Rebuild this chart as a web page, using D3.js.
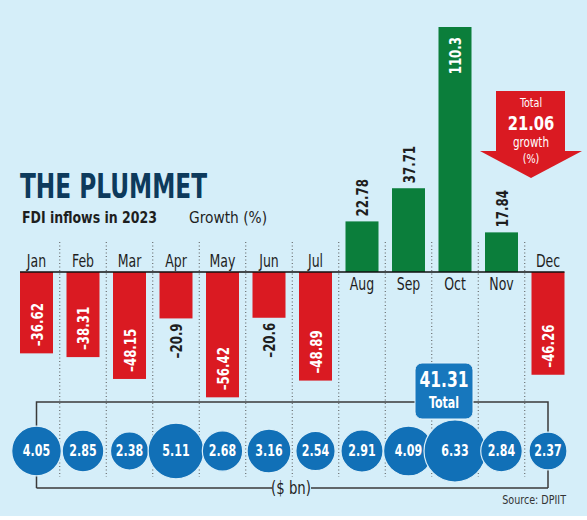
<!DOCTYPE html>
<html>
<head>
<meta charset="utf-8">
<script src="https://cdn.jsdelivr.net/npm/d3@7"></script>
<style>
    html, body { margin: 0; padding: 0; background: #fff; }
    svg { display: block; font-family: "DejaVu Sans Condensed", "DejaVu Sans", sans-serif; font-stretch: condensed; }
</style>
</head>
<body>
<div id="chart"></div>
<script>

/* Data */
const months = ['Jan', 'Feb', 'Mar', 'Apr', 'May', 'Jun', 'Jul', 'Aug', 'Sep', 'Oct', 'Nov', 'Dec'];
const growth = [-36.62, -38.31, -48.15, -20.9, -56.42, -20.6, -48.89, 22.78, 37.71, 110.3, 17.84, -46.26];
const inflows = [4.05, 2.85, 2.38, 5.11, 2.68, 3.16, 2.54, 2.91, 4.09, 6.33, 2.84, 2.37];
const totalGrowth = 21.06;
const totalInflow = 41.31;

const colors = {
    bg: '#d5eef9',
    red: '#da1a22',
    green: '#0b7e3b',
    blue: '#1170b7',
    navy: '#0d3a5c',
    ink: '#1e1e1e'
};

const width = 587, height = 520;
const squeeze = 0.82; // fake a condensed face

const x = d3.scalePoint().domain(months).range([13.25, 571.25]).padding(0.5);
const y = d3.scaleLinear().domain([0, 110.3]).range([272, 27]);
const r = d3.scaleSqrt().domain([0, 6.33]).range([0, 31]);
const barWidth = 33;
const step = x.step();

const svg = d3.select('#chart').append('svg')
    .attr('width', width)
    .attr('height', height);

svg.append('rect')
    .attr('width', width)
    .attr('height', 516)
    .attr('fill', colors.bg);

/* Dotted column separators */
svg.append('g').selectAll('line')
    .data(months.slice(0, -1))
    .join('line')
    .attr('x1', d => x(d) + step / 2)
    .attr('x2', d => x(d) + step / 2)
    .attr('y1', 242)
    .attr('y2', 477)
    .attr('stroke', '#555')
    .attr('stroke-width', 1)
    .attr('stroke-dasharray', '1,2.5');

/* Title */
svg.append('text')
    .attr('x', 20).attr('y', 198)
    .attr('font-size', 34).attr('font-weight', 900)
    .attr('fill', colors.navy)
    .attr('textLength', 187).attr('lengthAdjust', 'spacingAndGlyphs')
    .text('THE PLUMMET');

svg.append('text')
    .attr('x', 22).attr('y', 223)
    .attr('font-size', 15).attr('font-weight', 700)
    .attr('fill', colors.ink)
    .attr('textLength', 135).attr('lengthAdjust', 'spacingAndGlyphs')
    .text('FDI inflows in 2023');

svg.append('text')
    .attr('x', 189).attr('y', 223)
    .attr('font-size', 16)
    .attr('fill', colors.ink)
    .attr('textLength', 78).attr('lengthAdjust', 'spacingAndGlyphs')
    .text('Growth (%)');

/* Bars */
const bars = svg.append('g').selectAll('g')
    .data(months.map((m, i) => ({month: m, value: growth[i]})))
    .join('g');

bars.append('rect')
    .attr('x', d => x(d.month) - barWidth / 2)
    .attr('width', barWidth)
    .attr('y', d => Math.min(y(d.value), y(0)))
    .attr('height', d => Math.abs(y(d.value) - y(0)))
    .attr('fill', d => d.value < 0 ? colors.red : colors.green);

/* Zero line */
svg.append('line')
    .attr('x1', x(months[0]) - barWidth / 2)
    .attr('x2', x(months[months.length - 1]) + barWidth / 2)
    .attr('y1', y(0)).attr('y2', y(0))
    .attr('stroke', '#111')
    .attr('stroke-width', 1.3);

/* Month names sit on the side away from the bar */
bars.append('text')
    .attr('transform', d => `translate(${x(d.month)},${d.value < 0 ? y(0) - 5 : y(0) + 18}) scale(${squeeze},1)`)
    .attr('text-anchor', 'middle')
    .attr('font-size', 17)
    .attr('fill', colors.ink)
    .text(d => d.month);

/* Value labels, inside the bar when there is room (or no room above) */
const fmt = v => (v < 0 ? '\u2013' : '') + Math.abs(v);

bars.append('text')
    .attr('font-size', 16)
    .attr('font-weight', 700)
    .attr('dominant-baseline', 'central')
    .text(d => fmt(d.value))
    .each(function(d) {
        const len = this.getComputedTextLength() * squeeze;
        const barLen = Math.abs(y(d.value) - y(0));
        let inside, anchor, pos;
        if (d.value < 0) {
            inside = barLen > len + 14;
            anchor = inside ? 'start' : 'end';
            pos = inside ? y(d.value) - 7 : y(d.value) + 5;
        } else {
            inside = y(d.value) - len - 5 < 0;
            anchor = inside ? 'end' : 'start';
            pos = inside ? y(d.value) + 10 : y(d.value) - 5;
        }
        d3.select(this)
            .attr('text-anchor', anchor)
            .attr('fill', inside ? '#fff' : colors.ink)
            .attr('transform', `translate(${x(d.month)},${pos}) rotate(-90) scale(${squeeze},1)`);
    });

/* Total growth arrow */
const arrow = svg.append('g');
arrow.append('path')
    .attr('d', 'M496,91 L565,91 L565,151 L582,151 L531,178 L480,151 L496,151 Z')
    .attr('fill', colors.red);

[['Total', 103, 13, 400], [totalGrowth.toFixed(2), 123, 20, 700], ['growth', 142, 14, 400], ['(%)', 159, 13, 400]]
    .forEach(([t, ty, fs, fw]) => {
        arrow.append('text')
            .attr('transform', `translate(531,${ty}) scale(${squeeze},1)`)
            .attr('text-anchor', 'middle')
            .attr('dominant-baseline', 'central')
            .attr('font-size', fs).attr('font-weight', fw)
            .attr('fill', '#fff')
            .text(t);
    });

/* Bracket around the bubbles */
const bTop = 402, bBottom = 488, cy = 451;
const x0 = x(months[0]), x1 = x(months[months.length - 1]);
const bracket = svg.append('g')
    .attr('stroke', '#3a3a3a')
    .attr('stroke-width', 1.5)
    .attr('fill', 'none');

bracket.append('path')
    .attr('d', `M${x0},${bBottom} L${x0},${bTop} L${x1},${bTop} L${x1},${bBottom}`);
bracket.append('path')
    .attr('d', `M${x0},${bBottom} L272,${bBottom} M311,${bBottom} L${x1},${bBottom}`);

svg.append('text')
    .attr('transform', `translate(291,${bBottom}) scale(${squeeze},1)`)
    .attr('text-anchor', 'middle')
    .attr('dominant-baseline', 'central')
    .attr('font-size', 18)
    .attr('fill', colors.ink)
    .text('($ bn)');

/* Total inflow box */
const box = svg.append('g');
box.append('rect')
    .attr('x', 415).attr('y', 363)
    .attr('width', 58).attr('height', 56)
    .attr('rx', 7)
    .attr('fill', '#1777bd')
    .attr('stroke', '#e3f3fb')
    .attr('stroke-width', 1);
box.append('text')
    .attr('transform', `translate(444,380) scale(${squeeze},1)`)
    .attr('text-anchor', 'middle').attr('dominant-baseline', 'central')
    .attr('font-size', 21).attr('font-weight', 700)
    .attr('fill', '#fff')
    .text(totalInflow.toFixed(2));
box.append('text')
    .attr('transform', `translate(444,403) scale(${squeeze},1)`)
    .attr('text-anchor', 'middle').attr('dominant-baseline', 'central')
    .attr('font-size', 15).attr('font-weight', 700)
    .attr('fill', '#fff')
    .text('Total');

/* Monthly inflow bubbles */
const bubbles = svg.append('g').selectAll('g')
    .data(months.map((m, i) => ({month: m, value: inflows[i]})))
    .join('g')
    .attr('transform', d => `translate(${x(d.month)},${cy})`);

bubbles.append('circle')
    .attr('r', d => r(d.value))
    .attr('fill', colors.blue)
    .attr('stroke', '#d9eff9')
    .attr('stroke-width', 1.2);

bubbles.append('text')
    .attr('transform', `scale(${squeeze},1)`)
    .attr('text-anchor', 'middle')
    .attr('dominant-baseline', 'central')
    .attr('font-size', 15).attr('font-weight', 700)
    .attr('fill', '#fff')
    .text(d => d.value.toFixed(2));

/* Source */
svg.append('text')
    .attr('transform', `translate(566,504) scale(${squeeze},1)`)
    .attr('text-anchor', 'end')
    .attr('font-size', 13)
    .attr('fill', '#333')
    .text('Source: DPIIT');

</script>
</body>
</html>
